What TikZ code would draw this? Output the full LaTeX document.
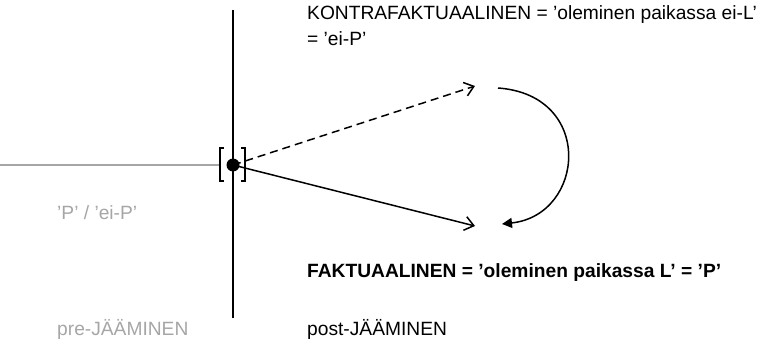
\documentclass[tikz,border=0pt]{standalone}
\usepackage{fontspec}
\setmainfont{Liberation Sans}
\usetikzlibrary{arrows.meta,positioning}
\definecolor{harmaa}{HTML}{A6A6A6}
\tikzset{
  teksti/.style={anchor=base west,inner sep=0pt,font=\fontsize{19.2}{22}\selectfont},
  hteksti/.style={teksti,text=harmaa},
  akseli/.style={line width=1.6pt},
  sulku/.style={line width=1.7pt},
  pont/.style={circle,fill,inner sep=0pt,minimum size=13pt},
  nyil/.style={line width=1.5pt,-{Straight Barb[length=9pt,width=14pt,line width=1.5pt]}},
  kaari/.style={line width=1.5pt,-{Triangle[length=10pt,width=10pt]}},
}
\begin{document}
\begin{tikzpicture}[x=1pt,y=-1pt]
  \useasboundingbox (0,0) rectangle (771,342);
  % aika-akseli
  \draw[harmaa,line width=1.2pt] (0,165) -- (219,165);
  \draw[akseli] (233,10) -- (233,318);
  \draw[sulku] (224,148) -- (220,148) -- (220,181) -- (224,181);
  \draw[sulku] (241,148) -- (245,148) -- (245,181) -- (241,181);
  \node[pont] (nyt) at (233,165) {};
  % tavoitteet
  \coordinate (kontra) at (475,86);
  \coordinate (fakta) at (475,226);
  \coordinate (kaarialku) at (498,88);
  \coordinate (kaariloppu) at (502,224);
  \draw[nyil,dashed,dash pattern=on 8pt off 5pt] (nyt.center) -- (kontra);
  \draw[nyil] (nyt.center) -- (fakta);
  \draw[kaari] (kaarialku) .. controls (595,95) and (585,215) .. (kaariloppu);
  % tekstit
  \node[teksti] (kontrateksti) at (307,20) {KONTRAFAKTUAALINEN = ’oleminen paikassa ei-L’};
  \node[teksti] (kontrateksti2) at (307,46) {= ’ei-P’};
  \node[teksti,font=\fontsize{19.2}{22}\selectfont\bfseries] (faktateksti) at (307,277) {FAKTUAALINEN = ’oleminen paikassa L’ = ’P’};
  \node[hteksti] (pteksti) at (57,219) {’P’ / ’ei-P’};
  \node[hteksti] (pre) at (57,335) {pre-JÄÄMINEN};
  \node[teksti] (post) at (307,335) {post-JÄÄMINEN};
\end{tikzpicture}
\end{document}
